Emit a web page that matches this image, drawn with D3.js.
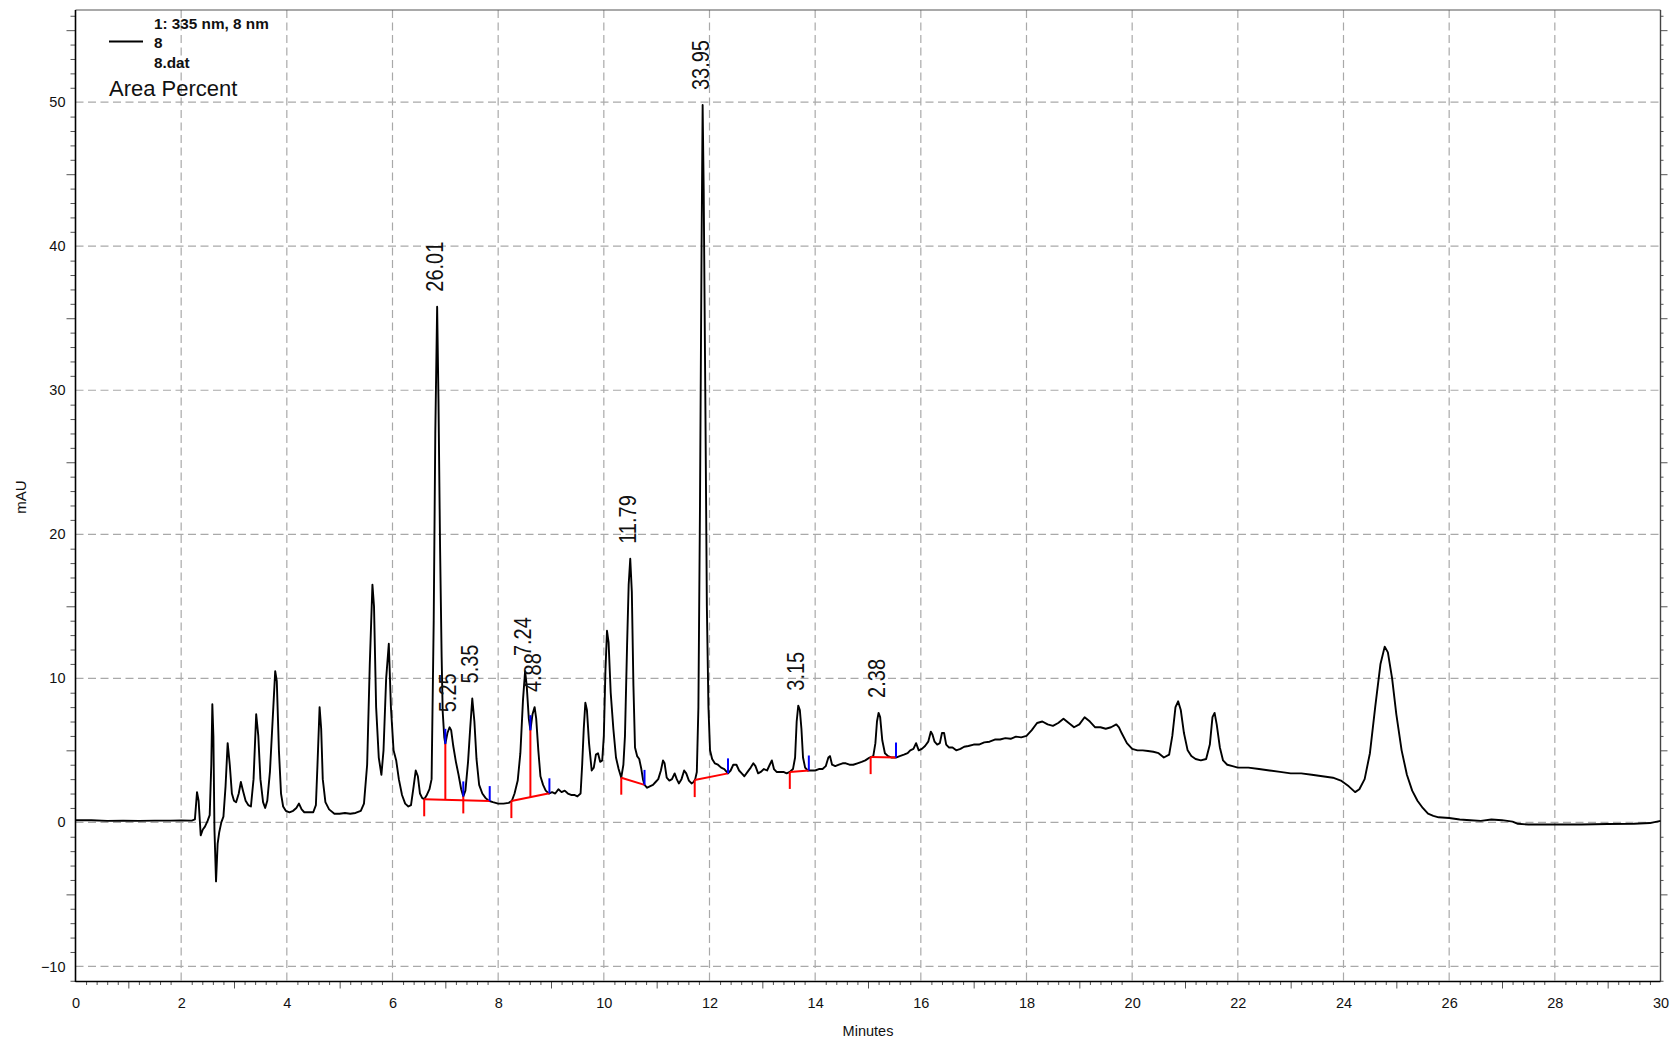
<!DOCTYPE html>
<html>
<head>
<meta charset="utf-8">
<script src="https://cdn.jsdelivr.net/npm/d3@7"></script>
<style>
  html, body { margin: 0; padding: 0; background: #fff; }
  svg { display: block; font-family: "Liberation Sans", Arial, Helvetica, sans-serif; }
</style>
</head>
<body>
<svg id="chart" width="1679" height="1043"></svg>
<script>
// Detector trace: retention time (min) and absorbance (mAU)
const retentionMin = [
  0.00, 0.30, 0.60, 0.90, 1.20, 1.50, 1.80, 2.00, 2.20, 2.26, 2.30, 2.33, 2.37, 2.41, 2.45, 2.50,
  2.54, 2.57, 2.59, 2.61, 2.63, 2.66, 2.69, 2.72, 2.76, 2.80, 2.84, 2.88, 2.92, 2.96, 3.00, 3.04,
  3.09, 3.13, 3.17, 3.22, 3.27, 3.32, 3.37, 3.42, 3.46, 3.50, 3.55, 3.59, 3.63, 3.68, 3.73, 3.78,
  3.81, 3.85, 3.89, 3.93, 3.98, 4.05, 4.12, 4.18, 4.23, 4.28, 4.33, 4.40, 4.50, 4.55, 4.58, 4.62,
  4.65, 4.68, 4.73, 4.80, 4.90, 5.00, 5.10, 5.20, 5.30, 5.40, 5.46, 5.52, 5.57, 5.62, 5.65, 5.69,
  5.74, 5.79, 5.83, 5.88, 5.93, 5.97, 6.02, 6.07, 6.12, 6.18, 6.24, 6.30, 6.35, 6.40, 6.44, 6.48,
  6.52, 6.56, 6.60, 6.65, 6.70, 6.74, 6.78, 6.81, 6.845, 6.87, 6.90, 6.93, 6.95, 6.98, 7.00, 7.04,
  7.08, 7.11, 7.15, 7.20, 7.25, 7.30, 7.34, 7.38, 7.43, 7.47, 7.51, 7.55, 7.59, 7.64, 7.70, 7.76,
  7.82, 7.90, 8.00, 8.10, 8.20, 8.26, 8.31, 8.37, 8.42, 8.47, 8.51, 8.54, 8.58, 8.61, 8.65, 8.69,
  8.72, 8.76, 8.80, 8.85, 8.90, 8.96, 9.02, 9.08, 9.14, 9.20, 9.26, 9.32, 9.38, 9.44, 9.50, 9.56,
  9.59, 9.62, 9.65, 9.68, 9.72, 9.77, 9.81, 9.85, 9.89, 9.93, 9.97, 10.00, 10.03, 10.06, 10.09, 10.13,
  10.18, 10.23, 10.28, 10.33, 10.37, 10.40, 10.44, 10.47, 10.50, 10.53, 10.56, 10.59, 10.63, 10.67, 10.71, 10.74,
  10.77, 10.82, 10.87, 10.93, 10.98, 11.03, 11.08, 11.12, 11.15, 11.19, 11.24, 11.29, 11.34, 11.38, 11.42, 11.47,
  11.52, 11.56, 11.61, 11.66, 11.70, 11.73, 11.76, 11.79, 11.82, 11.85, 11.87, 11.89, 11.92, 11.95, 11.98, 12.01,
  12.05, 12.10, 12.16, 12.22, 12.28, 12.35, 12.40, 12.45, 12.51, 12.56, 12.61, 12.66, 12.72, 12.78, 12.83, 12.87,
  12.92, 12.97, 13.03, 13.09, 13.14, 13.18, 13.22, 13.27, 13.33, 13.40, 13.46, 13.52, 13.58, 13.62, 13.65, 13.68,
  13.71, 13.74, 13.77, 13.81, 13.86, 13.92, 14.00, 14.07, 14.14, 14.20, 14.25, 14.28, 14.32, 14.38, 14.45, 14.52,
  14.58, 14.65, 14.72, 14.80, 14.88, 14.95, 15.03, 15.10, 15.14, 15.17, 15.20, 15.23, 15.27, 15.32, 15.38, 15.45,
  15.53, 15.60, 15.68, 15.75, 15.80, 15.86, 15.91, 15.96, 16.02, 16.08, 16.14, 16.19, 16.22, 16.26, 16.31, 16.36,
  16.40, 16.44, 16.48, 16.53, 16.60, 16.67, 16.75, 16.82, 16.90, 17.00, 17.10, 17.20, 17.30, 17.40, 17.50, 17.60,
  17.70, 17.80, 17.90, 18.00, 18.10, 18.20, 18.30, 18.40, 18.50, 18.60, 18.70, 18.80, 18.90, 19.00, 19.10, 19.20,
  19.30, 19.40, 19.50, 19.60, 19.70, 19.75, 19.80, 19.90, 20.00, 20.10, 20.20, 20.30, 20.40, 20.50, 20.60, 20.70,
  20.76, 20.82, 20.87, 20.92, 20.98, 21.05, 21.12, 21.20, 21.30, 21.40, 21.47, 21.52, 21.56, 21.60, 21.66, 21.72,
  21.80, 21.90, 22.00, 22.20, 22.40, 22.60, 22.80, 23.00, 23.20, 23.40, 23.60, 23.80, 23.95, 24.10, 24.22, 24.30,
  24.40, 24.50, 24.60, 24.70, 24.78, 24.84, 24.92, 25.00, 25.10, 25.20, 25.30, 25.40, 25.50, 25.60, 25.70, 25.80,
  26.00, 26.20, 26.40, 26.60, 26.80, 27.00, 27.20, 27.30, 27.50, 28.00, 28.50, 29.00, 29.50, 29.80, 30.00
];
const absorbanceMAU = [
  0.15, 0.15, 0.10, 0.12, 0.10, 0.12, 0.12, 0.13, 0.12, 0.20, 2.10, 1.50, -0.90, -0.50, -0.30, 0.10,
  0.50, 4.00, 8.20, 6.00, -0.50, -4.10, -1.50, -0.70, 0.00, 0.40, 2.50, 5.50, 4.00, 2.00, 1.50, 1.40,
  2.00, 2.80, 2.20, 1.50, 1.20, 1.10, 3.00, 7.50, 6.00, 3.00, 1.40, 1.00, 1.50, 3.50, 7.00, 10.50,
  9.80, 5.00, 2.00, 1.10, 0.80, 0.70, 0.80, 1.00, 1.30, 0.90, 0.70, 0.70, 0.70, 1.20, 4.00, 8.00,
  6.50, 3.00, 1.40, 0.90, 0.60, 0.60, 0.65, 0.60, 0.65, 0.80, 1.30, 4.00, 11.00, 16.50, 15.00, 8.00,
  4.50, 3.30, 5.00, 10.00, 12.40, 8.00, 5.00, 4.30, 3.00, 1.90, 1.30, 1.10, 1.20, 2.50, 3.60, 3.20,
  2.00, 1.70, 1.60, 1.90, 2.30, 3.00, 14.00, 27.00, 35.80, 29.40, 19.20, 11.50, 7.70, 5.90, 5.45, 6.20,
  6.60, 6.40, 5.30, 4.20, 3.30, 2.30, 1.80, 2.20, 4.20, 6.50, 8.60, 7.00, 4.40, 2.60, 2.00, 1.70,
  1.50, 1.40, 1.30, 1.30, 1.35, 1.50, 2.00, 2.90, 4.80, 8.50, 10.50, 9.50, 7.20, 6.40, 7.50, 8.00,
  7.20, 5.00, 3.20, 2.60, 2.20, 2.00, 2.10, 2.00, 2.30, 2.10, 2.20, 2.00, 1.90, 1.90, 1.80, 2.00,
  4.00, 6.50, 8.30, 7.80, 5.50, 3.60, 3.80, 4.70, 4.80, 4.20, 4.30, 6.00, 10.50, 13.30, 12.50, 9.00,
  6.50, 4.50, 3.70, 3.10, 4.00, 6.00, 12.30, 16.50, 18.30, 16.00, 9.50, 5.20, 4.60, 4.40, 3.70, 3.00,
  2.60, 2.40, 2.50, 2.60, 2.80, 3.00, 3.60, 4.30, 4.10, 3.10, 2.90, 3.00, 3.40, 3.00, 2.70, 3.00,
  3.60, 3.40, 2.90, 2.70, 2.80, 3.00, 3.50, 8.00, 22.00, 40.00, 49.80, 44.00, 30.00, 15.00, 8.00, 5.00,
  4.40, 4.10, 4.00, 3.80, 3.70, 3.40, 3.60, 4.00, 4.00, 3.60, 3.40, 3.20, 3.50, 3.80, 4.10, 3.90,
  3.40, 3.50, 3.70, 3.60, 4.00, 4.30, 3.70, 3.50, 3.50, 3.50, 3.40, 3.50, 3.70, 4.50, 7.00, 8.10,
  7.80, 6.50, 4.50, 3.80, 3.60, 3.60, 3.60, 3.70, 3.70, 3.90, 4.50, 4.60, 4.00, 3.90, 4.00, 4.10,
  4.10, 4.00, 4.00, 4.10, 4.20, 4.30, 4.50, 4.60, 5.50, 7.00, 7.60, 7.30, 5.70, 4.80, 4.60, 4.50,
  4.50, 4.60, 4.70, 4.80, 5.00, 5.10, 5.50, 5.00, 5.10, 5.30, 5.60, 6.30, 6.10, 5.60, 5.40, 5.50,
  6.20, 6.20, 5.40, 5.20, 5.20, 5.00, 5.10, 5.25, 5.30, 5.40, 5.40, 5.55, 5.60, 5.75, 5.75, 5.85,
  5.80, 5.95, 5.90, 6.00, 6.40, 6.90, 7.00, 6.80, 6.70, 6.90, 7.20, 6.90, 6.60, 6.80, 7.30, 7.00,
  6.60, 6.60, 6.50, 6.60, 6.80, 6.60, 6.20, 5.50, 5.10, 5.00, 5.00, 4.95, 4.90, 4.80, 4.50, 4.70,
  6.00, 8.00, 8.40, 7.80, 6.20, 5.00, 4.60, 4.40, 4.30, 4.40, 5.40, 7.30, 7.60, 6.80, 5.20, 4.30,
  4.00, 3.90, 3.80, 3.80, 3.70, 3.60, 3.50, 3.40, 3.40, 3.30, 3.20, 3.10, 2.90, 2.50, 2.10, 2.30,
  3.00, 4.80, 8.00, 11.00, 12.20, 11.80, 10.00, 7.50, 5.00, 3.30, 2.20, 1.50, 1.00, 0.60, 0.45, 0.35,
  0.30, 0.20, 0.15, 0.10, 0.20, 0.15, 0.05, -0.10, -0.15, -0.15, -0.15, -0.12, -0.10, -0.05, 0.10
];

// Axis ticks
const timeTicks = d3.range(0, 31, 2);
const mauTicks = d3.range(-10, 51, 10);

// Integrated peaks: apex time, apex height and area percent
const peakApexMin = [6.845, 7.08, 7.51, 8.51, 8.69, 10.50, 11.87, 13.68, 15.20];
const peakApexMAU = [35.8, 6.6, 8.6, 10.5, 8.0, 18.3, 49.8, 8.1, 7.6];
const peakAreaPct = ["26.01", "5.25", "5.35", "7.24", "4.88", "11.79", "33.95", "3.15", "2.38"];

// Integration events (min)
const baselineFrom = [6.60, 8.25, 10.33, 11.72, 13.52, 15.05];
const baselineTo = [7.84, 8.97, 10.77, 12.35, 13.88, 15.53];
const dropLineAt = [7.00, 8.61];
const peakStartAt = [6.60, 7.34, 8.25, 10.33, 11.72, 13.52, 15.05];
const peakEndAt = [7.00, 7.34, 7.84, 8.61, 8.97, 10.77, 12.35, 13.88, 15.53];

const svg = d3.select("#chart");
const plotL = 75.5, plotR = 1660.5, plotT = 10, plotB = 981.5;

const x = d3.scaleLinear().domain([0, 30]).range([plotL, plotR]);
const y = d3.scaleLinear().domain([-11.05, 56.4]).range([plotB, plotT]);

const gridColor = "#a9a9a9";

// Grid
const grid = svg.append("g");
grid.selectAll("line.vg").data(timeTicks.filter(t => t > 0 && t < 30)).join("line")
  .attr("x1", d => x(d)).attr("x2", d => x(d)).attr("y1", plotT).attr("y2", plotB)
  .attr("stroke", gridColor).attr("stroke-width", 1.2).attr("stroke-dasharray", "8,4.5");
grid.selectAll("line.hg").data(mauTicks).join("line")
  .attr("x1", plotL).attr("x2", plotR).attr("y1", d => y(d)).attr("y2", d => y(d))
  .attr("stroke", gridColor).attr("stroke-width", 1.2).attr("stroke-dasharray", "8,4.5");

// Minor / medium ticks via d3 axes
const yMinor = d3.range(-11, 57, 1).filter(v => v % 5 !== 0);
const yMid = d3.range(-10, 56, 5).filter(v => v % 10 !== 0);
const xMinor = d3.range(0, 150.5, 1).map(k => k / 5).filter(t => Math.abs(t - Math.round(t)) > 1e-6);
const xMid = d3.range(1, 30, 2);

function tickAxis(axisFn, scale, values, size, tr) {
  const g = svg.append("g").attr("transform", tr)
    .call(axisFn(scale).tickValues(values).tickSize(size).tickFormat(""));
  g.select(".domain").remove();
  g.selectAll(".tick line").attr("stroke", "#555").attr("stroke-width", 1);
  return g;
}
tickAxis(d3.axisLeft, y, yMinor, 5, `translate(${plotL},0)`);
tickAxis(d3.axisLeft, y, yMid, 9, `translate(${plotL},0)`);
tickAxis(d3.axisRight, y, yMinor, 3, `translate(${plotR},0)`);
tickAxis(d3.axisRight, y, yMid, 7, `translate(${plotR},0)`);
tickAxis(d3.axisBottom, x, xMinor, 3.5, `translate(0,${plotB})`);
tickAxis(d3.axisBottom, x, xMid, 7, `translate(0,${plotB})`);

// Labeled axes
const yAxis = svg.append("g").attr("transform", `translate(${plotL},0)`)
  .call(d3.axisLeft(y).tickValues(mauTicks).tickSize(0).tickPadding(10));
yAxis.select(".domain").remove();
yAxis.selectAll("text").attr("font-size", 14.5).attr("fill", "#111")
  .attr("font-family", "Liberation Sans, Arial, sans-serif");

const xAxis = svg.append("g").attr("transform", `translate(0,${plotB})`)
  .call(d3.axisBottom(x).tickValues(timeTicks).tickSize(0).tickPadding(16));
xAxis.select(".domain").remove();
xAxis.selectAll("text").attr("font-size", 14.5).attr("fill", "#111")
  .attr("font-family", "Liberation Sans, Arial, sans-serif");

// Frame
svg.append("line").attr("x1", plotL).attr("x2", plotR).attr("y1", plotT).attr("y2", plotT)
  .attr("stroke", "#555").attr("stroke-width", 1.2);
svg.append("line").attr("x1", plotR).attr("x2", plotR).attr("y1", plotT).attr("y2", plotB)
  .attr("stroke", "#444").attr("stroke-width", 1.4);
svg.append("line").attr("x1", plotL).attr("x2", plotL).attr("y1", plotT).attr("y2", plotB + 0.5)
  .attr("stroke", "#000").attr("stroke-width", 1.6);
svg.append("line").attr("x1", plotL).attr("x2", plotR).attr("y1", plotB).attr("y2", plotB)
  .attr("stroke", "#000").attr("stroke-width", 1.6);

// Axis titles
svg.append("text").attr("x", (plotL + plotR) / 2).attr("y", 1036).attr("text-anchor", "middle")
  .attr("font-size", 14.5).attr("fill", "#111").text("Minutes");
svg.append("text").attr("transform", "translate(26,497) rotate(-90)").attr("text-anchor", "middle")
  .attr("font-size", 15).attr("fill", "#111").text("mAU");

// Trace
const trace = retentionMin.map((t, i) => [t, absorbanceMAU[i]]);
svg.append("path").datum(trace)
  .attr("fill", "none").attr("stroke", "#000").attr("stroke-width", 1.9)
  .attr("stroke-linejoin", "round")
  .attr("d", d3.line().x(d => x(d[0])).y(d => y(d[1])));

// Signal value at an arbitrary time (linear between samples)
const bis = d3.bisector(d => d).left;
function signalAt(t) {
  const i = Math.max(1, Math.min(retentionMin.length - 1, bis(retentionMin, t)));
  const t0 = retentionMin[i - 1], t1 = retentionMin[i];
  const v0 = absorbanceMAU[i - 1], v1 = absorbanceMAU[i];
  return v0 + (v1 - v0) * (t - t0) / (t1 - t0);
}
function baselineAt(t) {
  const k = baselineFrom.findIndex((s, i) => t >= s && t <= baselineTo[i]);
  const a = baselineFrom[k], b = baselineTo[k];
  const va = signalAt(a), vb = signalAt(b);
  return va + (vb - va) * (t - a) / (b - a);
}

const red = "#ff0000", blue = "#0000ff";
const integ = svg.append("g");
// baselines
integ.selectAll("line.base").data(baselineFrom).join("line")
  .attr("x1", d => x(d)).attr("y1", d => y(signalAt(d)))
  .attr("x2", (d, i) => x(baselineTo[i])).attr("y2", (d, i) => y(signalAt(baselineTo[i])))
  .attr("stroke", red).attr("stroke-width", 2);
// drop lines
integ.selectAll("line.drop").data(dropLineAt).join("line")
  .attr("x1", d => x(d)).attr("x2", d => x(d))
  .attr("y1", d => y(baselineAt(d))).attr("y2", d => y(signalAt(d)))
  .attr("stroke", red).attr("stroke-width", 2);
// peak start ticks
integ.selectAll("line.start").data(peakStartAt).join("line")
  .attr("x1", d => x(d)).attr("x2", d => x(d))
  .attr("y1", d => y(signalAt(d))).attr("y2", d => y(signalAt(d)) + 17)
  .attr("stroke", red).attr("stroke-width", 2);
// peak end ticks
integ.selectAll("line.end").data(peakEndAt).join("line")
  .attr("x1", d => x(d)).attr("x2", d => x(d))
  .attr("y1", d => y(signalAt(d))).attr("y2", d => y(signalAt(d)) - 15)
  .attr("stroke", blue).attr("stroke-width", 2);

// Area-percent labels above each apex
svg.append("g").selectAll("text").data(peakAreaPct).join("text")
  .attr("transform", (d, i) => `translate(${x(peakApexMin[i]) - 2},${y(peakApexMAU[i]) - 15}) rotate(-90) scale(1,1.15)`)
  .attr("dy", "0.35em").attr("text-anchor", "start")
  .attr("font-size", 20).attr("fill", "#111").text(d => d);

// Legend
svg.append("line").attr("x1", 109).attr("x2", 143).attr("y1", 41.5).attr("y2", 41.5)
  .attr("stroke", "#000").attr("stroke-width", 2);
const legendLines = ["1: 335 nm, 8 nm", "8", "8.dat"];
svg.append("g").selectAll("text").data(legendLines).join("text")
  .attr("x", 154).attr("y", (d, i) => 29 + i * 19.4)
  .attr("font-size", 15.3).attr("font-weight", "bold").attr("fill", "#111").text(d => d);
svg.append("text").attr("x", 109).attr("y", 96).attr("font-size", 22).attr("fill", "#111")
  .text("Area Percent");
</script>
</body>
</html>
